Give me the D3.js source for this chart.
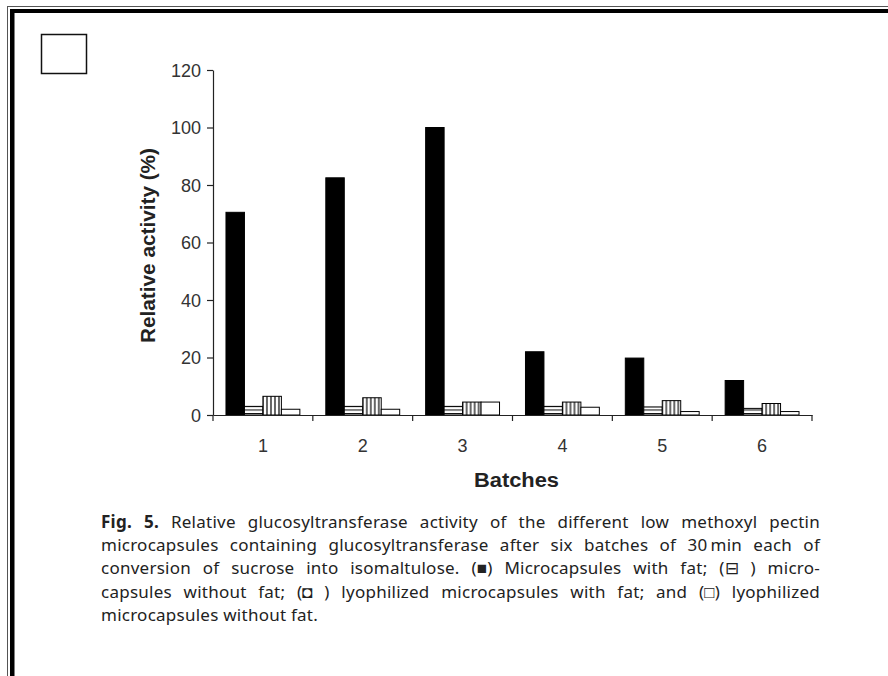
<html lang="en">
<head>
<meta charset="utf-8">
<script src="https://cdn.jsdelivr.net/npm/d3@7"></script>
<style>
body{margin:0;background:#fff;}
svg{display:block;}
</style>
</head>
<body>
<div id="drawarea"></div>
<script>
// values
const batches=["1","2","3","4","5","6"]
const withFat=[70.5,82.5,100,22,19.8,12]
const withoutFat=[3,3,3,3,2.8,2.3]
const lyoWithFat=[6.5,6,4.5,4.5,5,4]
const lyoWithoutFat=[2,2,4.5,2.7,1.2,1.2]
const seriesNames=["withFat","withoutFat","lyoWithFat","lyoWithoutFat"]
const yTicks=[0,20,40,60,80,100,120]
const captionLines=[
"Fig. 5. Relative glucosyltransferase activity of the different low methoxyl pectin",
"microcapsules containing glucosyltransferase after six batches of 30\u2009min each of",
"conversion of sucrose into isomaltulose. (\u25A0) Microcapsules with fat; (\u229F ) micro-",
"capsules without fat; (\u25D8 ) lyophilized microcapsules with fat; and (\u25A1) lyophilized",
"microcapsules without fat."
]

const W=888,H=676
const svg=d3.select("#drawarea").append("svg").attr("width",W).attr("height",H)

// page frame (double line, top and left only)
svg.append("line").attr("x1",7.5).attr("x2",7.5).attr("y1",6).attr("y2",H).style("stroke","#555").style("stroke-width",1)
svg.append("line").attr("x1",7).attr("x2",W).attr("y1",6.5).attr("y2",6.5).style("stroke","#555").style("stroke-width",1)
svg.append("rect").attr("x",10).attr("y",9).attr("width",W-10).attr("height",4).style("fill","#000")
svg.append("rect").attr("x",10).attr("y",9).attr("width",4.5).attr("height",H-9).style("fill","#000")
svg.append("rect").attr("x",41.5).attr("y",34.5).attr("width",45).attr("height",39).style("fill","none").style("stroke","#111").style("stroke-width",1.5)

// fill patterns
const defs=svg.append("defs")
const ph=defs.append("pattern").attr("id","hstripe").attr("patternUnits","userSpaceOnUse").attr("width",6).attr("height",3.5)
ph.append("rect").attr("width",6).attr("height",3.5).style("fill","#fff")
ph.append("line").attr("x1",0).attr("x2",6).attr("y1",0.5).attr("y2",0.5).style("stroke","#000").style("stroke-width",1)
const pv=defs.append("pattern").attr("id","vstripe").attr("patternUnits","userSpaceOnUse").attr("width",4).attr("height",6)
pv.append("rect").attr("width",4).attr("height",6).style("fill","#fff")
pv.append("line").attr("x1",1).attr("x2",1).attr("y1",0).attr("y2",6).style("stroke","#000").style("stroke-width",1.2)
const fills={withFat:"#000",withoutFat:"url(#hstripe)",lyoWithFat:"url(#vstripe)",lyoWithoutFat:"#fff"}

const x0=d3.scaleBand().domain(batches).range([213,812]).paddingInner(0.26).paddingOuter(0.13)
const x1=d3.scaleBand().domain(seriesNames).range([0,x0.bandwidth()])
const y=d3.scaleLinear().domain([0,120]).range([415,70])

const rows=batches.map((b,i)=>({batch:b,withFat:withFat[i],withoutFat:withoutFat[i],lyoWithFat:lyoWithFat[i],lyoWithoutFat:lyoWithoutFat[i]}))

const g=svg.append("g")
g.selectAll("g.batch").data(rows).enter().append("g").attr("class","batch")
  .attr("transform",d=>"translate("+x0(d.batch)+",0)")
  .selectAll("rect").data(d=>seriesNames.map(k=>({key:k,value:d[k]}))).enter().append("rect")
  .attr("x",d=>x1(d.key)).attr("width",x1.bandwidth())
  .attr("y",d=>y(d.value)).attr("height",d=>y(0)-y(d.value))
  .style("fill",d=>fills[d.key]).style("stroke","#000").style("stroke-width",1)

// axes
const yAxis=svg.append("g").attr("transform","translate(213,0)").call(d3.axisLeft(y).tickValues(yTicks).tickSize(6).tickSizeOuter(0).tickPadding(6))
const xAxis=svg.append("g").attr("transform","translate(0,415)").call(d3.axisBottom(x0).tickValues([]).tickSizeOuter(0))
xAxis.selectAll("line.sep").data(d3.range(7)).enter().append("line").attr("class","sep")
  .attr("x1",i=>213+i*x0.step()).attr("x2",i=>213+i*x0.step()).attr("y1",0).attr("y2",6).style("stroke","#222").style("stroke-width",1.2)
xAxis.selectAll("text.lab").data(batches).enter().append("text").attr("class","lab")
  .attr("x",d=>x0(d)+x0.bandwidth()/2).attr("y",37).text(d=>d)
;[yAxis,xAxis].forEach(a=>{
  a.select(".domain").style("stroke","#222").style("stroke-width",1.2)
  a.selectAll(".tick line").style("stroke","#222").style("stroke-width",1.2)
  a.selectAll("text").style("font-family","'Liberation Sans',Arial,sans-serif").style("font-size","18px").style("fill","#333")
})
yAxis.selectAll("text").attr("dy","0.36em")
xAxis.selectAll("text.lab").style("text-anchor","middle")

svg.append("text").attr("x",474).attr("y",487).attr("textLength",85).attr("lengthAdjust","spacingAndGlyphs")
  .style("font-family","'Liberation Sans',Arial,sans-serif").style("font-size","20px").style("font-weight","bold").style("fill","#222").text("Batches")
svg.append("text").attr("transform","translate(155,343) rotate(-90)").attr("textLength",195).attr("lengthAdjust","spacingAndGlyphs")
  .style("font-family","'Liberation Sans',Arial,sans-serif").style("font-size","20px").style("font-weight","bold").style("fill","#222").text("Relative activity (%)")

// caption, justified: a little letter spacing, rest goes to the word gaps
const capWidth=719
const cap=svg.append("g")
cap.selectAll("text").data(captionLines).enter().append("text")
  .attr("x",101).attr("y",(d,i)=>528+i*23.2)
  .style("font-family","'Noto Sans',sans-serif").style("font-size","17px").style("letter-spacing","0.25px").style("fill","#222")
  .each(function(d,i){
    const t=d3.select(this)
    if(i==0){
      t.append("tspan").style("font-weight","bold").text("Fig. 5.")
      t.append("tspan").text(d.substring(7))
    } else t.text(d)
    if(i<captionLines.length-1){
      const gaps=d.split(" ").length-1
      const extra=(capWidth-this.getComputedTextLength())/gaps
      t.style("word-spacing",extra+"px")
    }
  })
</script>
</body>
</html>
